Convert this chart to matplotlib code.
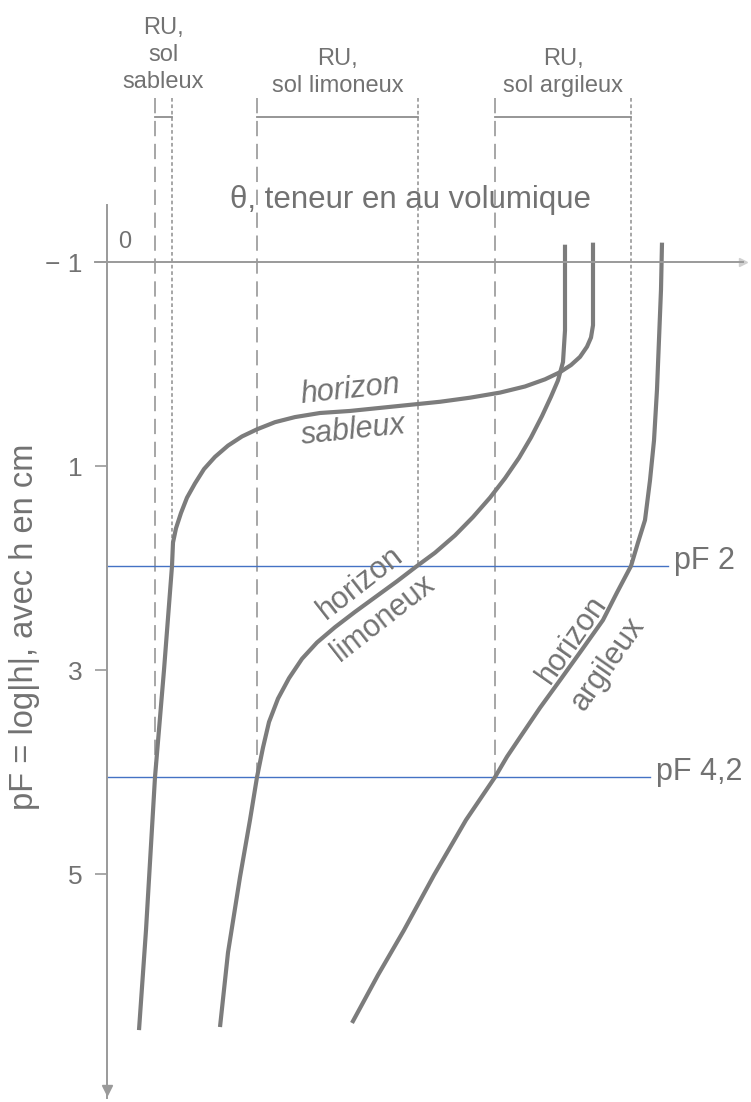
import matplotlib.pyplot as plt

# ============================================================
# === Data (theta = volumic water content,
# === pF = log|h|, axis pointing downwards)
# ============================================================

sand_theta = [0.486, 0.486, 0.486, 0.484, 0.480, 0.473, 0.464, 0.453, 0.438,
              0.418, 0.393, 0.363, 0.333, 0.303, 0.273, 0.243, 0.213, 0.188,
              0.168, 0.150, 0.135, 0.121, 0.108, 0.097, 0.088, 0.080, 0.074,
              0.069, 0.066, 0.065, 0.057, 0.048, 0.039, 0.032]
sand_pf = [-1.19, -0.63, -0.38, -0.26, -0.17, -0.07, 0.01, 0.08, 0.15,
           0.22, 0.28, 0.33, 0.37, 0.40, 0.43, 0.46, 0.48, 0.52,
           0.57, 0.64, 0.71, 0.80, 0.91, 1.03, 1.17, 1.31, 1.46,
           1.61, 1.75, 1.98, 3.00, 4.05, 5.55, 6.53]

loam_theta = [0.458, 0.458, 0.456, 0.451, 0.444, 0.435, 0.424, 0.412, 0.398,
              0.383, 0.366, 0.348, 0.328, 0.310, 0.290, 0.269, 0.248, 0.228,
              0.210, 0.195, 0.182, 0.171, 0.162, 0.156, 0.150, 0.143, 0.133,
              0.121, 0.113]
loam_pf = [-1.17, -0.33, -0.02, 0.16, 0.32, 0.51, 0.72, 0.92, 1.12,
           1.31, 1.50, 1.68, 1.85, 1.98, 2.13, 2.28, 2.43, 2.58,
           2.73, 2.89, 3.08, 3.28, 3.51, 3.76, 4.05, 4.47, 5.03,
           5.77, 6.50]

clay_theta = [0.555, 0.554, 0.552, 0.550, 0.547, 0.543, 0.538, 0.531, 0.524,
              0.510, 0.496, 0.475, 0.453, 0.433, 0.413, 0.400, 0.388, 0.359,
              0.327, 0.297, 0.271, 0.245]
clay_pf = [-1.19, -0.73, -0.24, 0.25, 0.75, 1.14, 1.53, 1.75, 1.98,
           2.24, 2.51, 2.80, 3.10, 3.37, 3.66, 3.85, 4.05, 4.47,
           5.01, 5.55, 5.99, 6.46]

# RU limits: theta at field capacity (pF 2) and wilting point (pF 4,2)
ru_labels = ["RU,\nsol\nsableux", "RU,\nsol limoneux", "RU,\nsol argileux"]
theta_fc = [0.065, 0.311, 0.524]
theta_wp = [0.048, 0.150, 0.388]

pf_levels = [1.98, 4.05]
pf_labels = ["pF 2", "pF 4,2"]
pf_line_end = [0.561, 0.543]

y_ticks = [-1, 1, 3, 5]
y_tick_labels = ["\u2212 1", "1", "3", "5"]

# ============================================================
# === Style
# ============================================================

plt.rcParams['font.family'] = ['Liberation Sans', 'DejaVu Sans']
GREY_TXT = "#727272"
GREY_AX = "#9a9a9a"
GREY_CURVE = "#7c7c7c"
GREY_REF = "#8e8e8e"
BLUE = "#4472c4"

fig = plt.figure(figsize=(7.51, 11.02), dpi=100)
ax = fig.add_axes([0, 0, 1, 1])
ax.set_xlim(-0.107, 0.644)
ax.set_ylim(7.235, -3.569)

# axes: vertical pF axis at theta = 0, horizontal theta axis at pF = -1
for side in ("right", "bottom"):
    ax.spines[side].set_visible(False)
ax.spines["left"].set_position(("data", 0))
ax.spines["left"].set_bounds(-1.56, 7.2)
ax.spines["top"].set_position(("data", -1))
ax.spines["top"].set_bounds(-0.012, 0.636)
for side in ("left", "top"):
    ax.spines[side].set_color(GREY_AX)
    ax.spines[side].set_linewidth(1.4)

ax.set_xticks([])
ax.set_yticks(y_ticks)
ax.set_yticklabels(y_tick_labels)
ax.tick_params(axis="y", direction="out", length=8.5, width=1.2,
               color=GREY_AX, labelcolor=GREY_TXT, labelsize=19, pad=9)

ax.plot(0, 7.12, marker="v", ms=7, color=GREY_AX, clip_on=False)
ax.plot(0.636, -1, marker=">", ms=6, color="#d0d0d0", clip_on=False)

# ============================================================
# === RU reference lines and brackets
# ============================================================

top_pf = -2.61
bracket_pf = -2.42
for fc, wp, lab in zip(theta_fc, theta_wp, ru_labels):
    ax.plot([wp, wp], [top_pf, pf_levels[1]], color=GREY_REF, lw=1.1,
            linestyle=(0, (10, 5)))
    ax.plot([fc, fc], [top_pf, pf_levels[0]], color=GREY_REF, lw=1.1,
            linestyle=(0, (2.4, 1.8)))
    ax.plot([wp, fc], [bracket_pf, bracket_pf], color=GREY_REF, lw=1.3)
    n_lines = lab.count("\n") + 1
    ax.text((wp + fc) / 2, -3.03 if n_lines == 3 else -2.86, lab,
            ha="center", va="center", fontsize=17, color=GREY_TXT,
            linespacing=1.3)

# ============================================================
# === pF 2 and pF 4,2 levels
# ============================================================

for lvl, lab, x_end in zip(pf_levels, pf_labels, pf_line_end):
    ax.plot([0, x_end], [lvl, lvl], color=BLUE, lw=1.0)
    ax.text(x_end + 0.006, lvl - 0.05, lab, ha="left", va="center",
            fontsize=22, color=GREY_TXT)

# ============================================================
# === Retention curves
# ============================================================

for th, pf in ((sand_theta, sand_pf), (loam_theta, loam_pf),
               (clay_theta, clay_pf)):
    ax.plot(th, pf, color=GREY_CURVE, lw=3.0, solid_joinstyle="round",
            solid_capstyle="butt")

ax.text(0.243, 0.25, "horizon", fontsize=22, style="italic", color=GREY_TXT,
        ha="center", va="center", rotation=6)
ax.text(0.246, 0.65, "sableux", fontsize=22, style="italic", color=GREY_TXT,
        ha="center", va="center", rotation=6)
ax.text(0.253, 2.15, "horizon", fontsize=22, color=GREY_TXT,
        ha="center", va="center", rotation=38)
ax.text(0.276, 2.49, "limoneux", fontsize=22, color=GREY_TXT,
        ha="center", va="center", rotation=38)
ax.text(0.465, 2.70, "horizon", fontsize=22, color=GREY_TXT,
        ha="center", va="center", rotation=55)
ax.text(0.501, 2.94, "argileux", fontsize=22, color=GREY_TXT,
        ha="center", va="center", rotation=55)

# ============================================================
# === Axis titles
# ============================================================

ax.text(0.303, -1.61, "\u03b8, teneur en au volumique", fontsize=22.5,
        color=GREY_TXT, ha="center", va="center")
ax.text(0.018, -1.20, "0", fontsize=17, color=GREY_TXT,
        ha="center", va="center")
ax.text(-0.082, 2.58, "pF = log|h|, avec h en cm", fontsize=23.5,
        color=GREY_TXT, ha="center", va="center", rotation=90)

fig.savefig("out.png", dpi=100, facecolor="white")
